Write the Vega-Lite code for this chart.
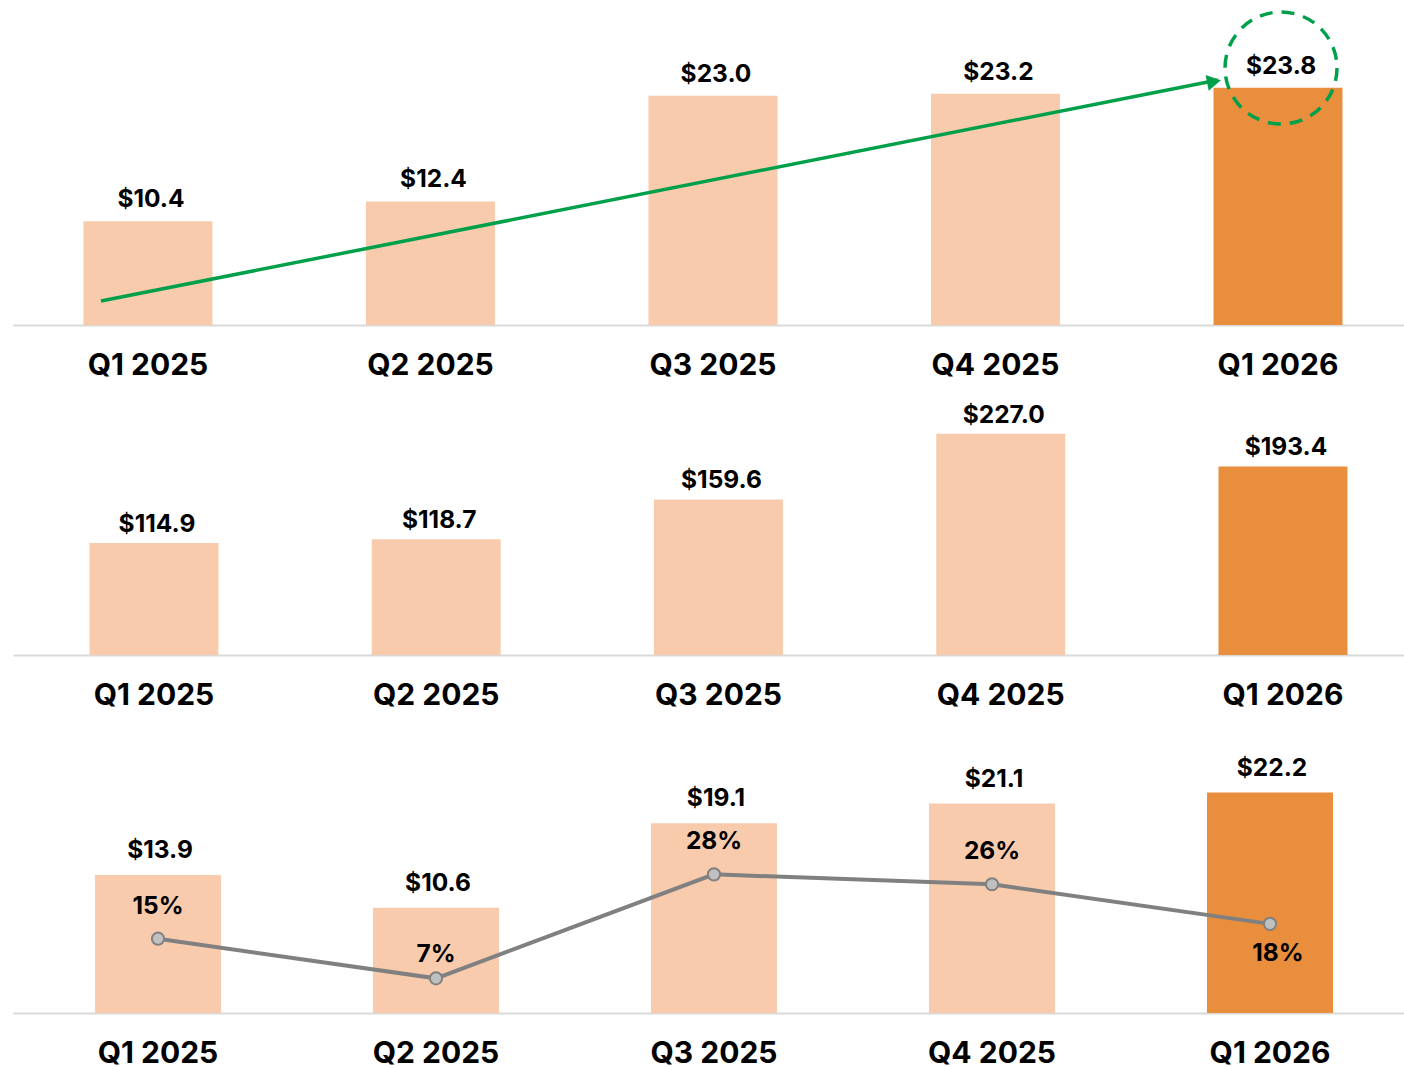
{
  "$schema": "https://vega.github.io/schema/vega-lite/v6.json",
  "padding": {"left": 13, "top": 5, "right": 0, "bottom": 0},
  "background": "white",
  "bounds": "flush",
  "spacing": 80,
  "config": {
    "view": {"stroke": null},
    "font": "Inter",
    "scale": {"nice": false},
    "axisX": {"domainColor": "#d9d9d9", "domainWidth": 2, "ticks": false, "labelFont": "Inter", "labelFontSize": 30, "labelFontWeight": "bold", "labelColor": "#000000", "labelPadding": 25, "title": null, "labelAngle": 0, "grid": false},
    "text": {"font": "Inter", "fontWeight": "bold", "fontSize": 24.5, "color": "#000000"}
  },
  "datasets": {
    "p1": [
      {"quarter": "Q1 2025", "value": 10.4},
      {"quarter": "Q2 2025", "value": 12.4},
      {"quarter": "Q3 2025", "value": 23.0},
      {"quarter": "Q4 2025", "value": 23.2},
      {"quarter": "Q1 2026", "value": 23.8}
    ],
    "arrow": [
      {"from": "Q1 2025", "to": "Q1 2026", "start": 2.4, "end": 24.58}
    ],
    "circle": [
      {"quarter": "Q1 2026", "value": 25.78}
    ],
    "p2": [
      {"quarter": "Q1 2025", "value": 114.9},
      {"quarter": "Q2 2025", "value": 118.7},
      {"quarter": "Q3 2025", "value": 159.6},
      {"quarter": "Q4 2025", "value": 227.0},
      {"quarter": "Q1 2026", "value": 193.4}
    ],
    "p3": [
      {"quarter": "Q1 2025", "value": 13.9, "pct": 0.15},
      {"quarter": "Q2 2025", "value": 10.6, "pct": 0.07},
      {"quarter": "Q3 2025", "value": 19.1, "pct": 0.28},
      {"quarter": "Q4 2025", "value": 21.1, "pct": 0.26},
      {"quarter": "Q1 2026", "value": 22.2, "pct": 0.18}
    ]
  },
  "vconcat": [
    {
      "width": 1391,
      "height": 317,
      "encoding": {
        "x": {"field": "quarter", "type": "nominal", "sort": null,
          "scale": {"domain": ["Q1 2025", "Q2 2025", "Q3 2025", "Q4 2025", "Q1 2026"], "paddingInner": 0.5434, "paddingOuter": 0.2336, "align": 0.534}}
      },
      "layer": [
        {
          "data": {"name": "p1"},
          "mark": {"type": "bar"},
          "encoding": {
            "y": {"field": "value", "type": "quantitative", "scale": {"domain": [0, 31.8], "nice": false}, "axis": null},
            "color": {"condition": {"test": "datum.quarter === 'Q1 2026'", "value": "#E98E3D"}, "value": "#F8CBAD"}
          }
        },
        {
          "data": {"name": "p1"},
          "mark": {"type": "text", "dy": -21, "dx": 3},
          "encoding": {
            "y": {"field": "value", "type": "quantitative"},
            "text": {"field": "value", "type": "quantitative", "format": "$.1f"}
          }
        },
        {
          "data": {"name": "arrow"},
          "mark": {"type": "rule", "color": "#00A04A", "strokeWidth": 3.5, "xOffset": -47, "x2Offset": -60},
          "encoding": {
            "x": {"field": "from", "type": "nominal"},
            "x2": {"field": "to"},
            "y": {"field": "start", "type": "quantitative"},
            "y2": {"field": "end"}
          }
        },
        {
          "data": {"name": "arrow"},
          "mark": {"type": "point", "shape": "triangle-right", "filled": true, "color": "#00A04A", "size": 260, "opacity": 1, "angle": -11.2, "xOffset": -64, "yOffset": 1.6},
          "encoding": {
            "x": {"field": "to", "type": "nominal"},
            "y": {"field": "end", "type": "quantitative"}
          }
        },
        {
          "data": {"name": "circle"},
          "mark": {"type": "point", "shape": "circle", "filled": false, "color": "#00A04A", "strokeWidth": 3.5, "strokeDash": [13, 9], "size": 12544, "opacity": 1, "xOffset": 3},
          "encoding": {
            "y": {"field": "value", "type": "quantitative"}
          }
        }
      ]
    },
    {
      "width": 1391,
      "height": 250,
      "data": {"name": "p2"},
      "encoding": {
        "x": {"field": "quarter", "type": "nominal", "sort": null,
          "scale": {"domain": ["Q1 2025", "Q2 2025", "Q3 2025", "Q4 2025", "Q1 2026"], "paddingInner": 0.543, "paddingOuter": 0.2356, "align": 0.575}},
        "y": {"field": "value", "type": "quantitative", "scale": {"domain": [0, 256.4], "nice": false}, "axis": null}
      },
      "layer": [
        {
          "mark": {"type": "bar"},
          "encoding": {
            "color": {"condition": {"test": "datum.quarter === 'Q1 2026'", "value": "#E98E3D"}, "value": "#F8CBAD"}
          }
        },
        {
          "mark": {"type": "text", "dy": -18, "dx": 3},
          "encoding": {
            "text": {"field": "value", "type": "quantitative", "format": "$.1f"}
          }
        }
      ]
    },
    {
      "width": 1391,
      "height": 278,
      "data": {"name": "p3"},
      "encoding": {
        "x": {"field": "quarter", "type": "nominal", "sort": null,
          "scale": {"domain": ["Q1 2025", "Q2 2025", "Q3 2025", "Q4 2025", "Q1 2026"], "paddingInner": 0.5468, "paddingOuter": 0.2752, "align": 0.536}}
      },
      "layer": [
        {
          "layer": [
            {
              "mark": {"type": "bar"},
              "encoding": {
                "y": {"field": "value", "type": "quantitative", "scale": {"domain": [0, 28.0], "nice": false}, "axis": null},
                "color": {"condition": {"test": "datum.quarter === 'Q1 2026'", "value": "#E98E3D"}, "value": "#F8CBAD"}
              }
            },
            {
              "mark": {"type": "text", "dy": -24, "dx": 2},
              "encoding": {
                "y": {"field": "value", "type": "quantitative"},
                "text": {"field": "value", "type": "quantitative", "format": "$.1f"}
              }
            }
          ]
        },
        {
          "encoding": {
            "y": {"field": "pct", "type": "quantitative", "scale": {"domain": [0, 0.5614], "nice": false}, "axis": null}
          },
          "layer": [
            {
              "mark": {"type": "line", "color": "#808080", "strokeWidth": 4}
            },
            {
              "mark": {"type": "point", "shape": "circle", "filled": true, "fill": "#C0C0C0", "stroke": "#808080", "strokeWidth": 2, "size": 150, "opacity": 1}
            },
            {
              "transform": [{"filter": "datum.quarter !== 'Q1 2026' && datum.quarter !== 'Q2 2025'"}],
              "mark": {"type": "text", "dy": -32},
              "encoding": {"text": {"field": "pct", "type": "quantitative", "format": ".0%"}}
            },
            {
              "transform": [{"filter": "datum.quarter === 'Q2 2025'"}],
              "mark": {"type": "text", "dy": -23},
              "encoding": {"text": {"field": "pct", "type": "quantitative", "format": ".0%"}}
            },
            {
              "transform": [{"filter": "datum.quarter === 'Q1 2026'"}],
              "mark": {"type": "text", "dy": 30, "dx": 8},
              "encoding": {"text": {"field": "pct", "type": "quantitative", "format": ".0%"}}
            }
          ]
        }
      ],
      "resolve": {"scale": {"y": "independent"}}
    }
  ],
  "resolve": {"scale": {"x": "independent", "y": "independent"}}
}
